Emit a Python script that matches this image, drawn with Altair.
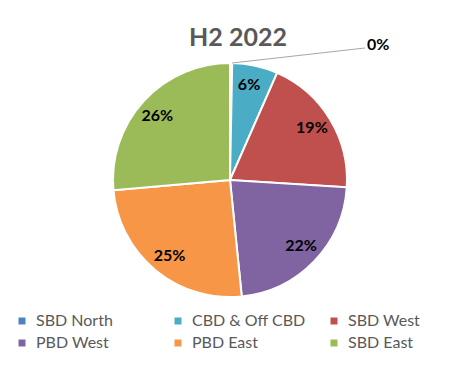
import altair as alt
import pandas as pd

categories = ["SBD North", "CBD & Off CBD", "SBD West", "PBD West", "PBD East", "SBD East"]
values = [0.3, 6.3, 19.4, 22.4, 25.2, 26.4]
labels = ["0%", "6%", "19%", "22%", "25%", "26%"]
colors = ["#4F81BD", "#4BACC6", "#C0504D", "#8064A2", "#F79646", "#9BBB59"]

df = pd.DataFrame({"cat": categories, "value": values, "label": labels, "idx": list(range(len(categories)))})

FONT = "Lato"

base = alt.Chart(df).encode(
    theta=alt.Theta("value:Q", stack=True),
    order=alt.Order("idx:Q"),
)

pie = base.mark_arc(outerRadius=117, stroke="white", strokeWidth=2).encode(
    color=alt.Color(
        "cat:N",
        scale=alt.Scale(domain=categories, range=colors),
        sort=categories,
        legend=alt.Legend(
            title=None,
            orient="none",
            legendX=6,
            legendY=305,
            columns=3,
            direction="horizontal",
            gridAlign="all",
            columnPadding=20,
            rowPadding=6,
            symbolType="square",
            symbolSize=49,
            symbolStrokeWidth=0,
            labelFont=FONT,
            labelFontSize=16,
            labelColor="#595959",
            labelOffset=6,
            labelLimit=200,
        ),
    )
)

inner = base.transform_filter("datum.value >= 1").mark_text(
    radius=97, font=FONT, fontSize=16, fontWeight="bold", color="black"
).encode(text="label:N")

small = base.transform_filter("datum.value < 1").mark_text(
    radius=117, dx=147, dy=-18, font=FONT, fontSize=16, fontWeight="bold", color="black"
).encode(text="label:N")

leader = alt.Chart(df).transform_filter("datum.value < 1").mark_rule(color="#A6A6A6", strokeWidth=1).encode(
    x=alt.value(224), y=alt.value(55), x2=alt.value(357), y2=alt.value(40)
)

chart = alt.layer(pie, leader, inner, small).properties(
    width=444,
    height=344,
    autosize=alt.AutoSizeParams(type="none"),
    padding=0,
    title=alt.TitleParams(
        "H2 2022", font=FONT, fontSize=25, fontWeight="bold", color="#595959",
        anchor="middle", dx=8, dy=47,
    ),
).configure_view(stroke=None)

chart.save("out.html", embed_options={"renderer": "svg", "actions": False})
